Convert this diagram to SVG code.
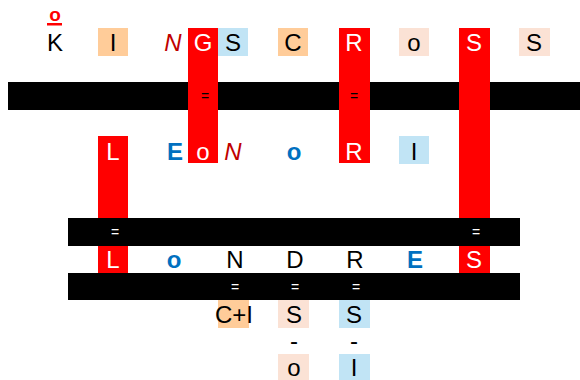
<svg xmlns="http://www.w3.org/2000/svg" width="580" height="380" viewBox="0 0 580 380">
<style>
text{font-family:"Liberation Sans",Arial,sans-serif;font-size:24px;text-anchor:middle}
.w{fill:#fff}
.k{fill:#000}
.b{fill:#0070C0;font-weight:bold}
.n{fill:#C00000;font-style:italic}
.eq{font-size:14px}
.red{fill:#FF0000}
.or{fill:#FFCC99}
.lb{fill:#C1E4F5}
.pe{fill:#FBE2D5}
.bar{fill:#000}
</style>
<g id="connectors">
<rect class="bar" x="8" y="82" width="572" height="28"/>
<rect class="bar" x="68" y="218" width="452" height="28"/>
<rect class="bar" x="68" y="273" width="452" height="27"/>
<rect class="red" x="188" y="28" width="30" height="135"/>
<rect class="red" x="339" y="28" width="31" height="135"/>
<rect class="red" x="459" y="28" width="31" height="190"/>
<rect class="red" x="98" y="136" width="30" height="82"/>
<text class="k eq" x="205" y="101">=</text>
<text class="k eq" x="354" y="101">=</text>
<text class="w eq" x="115" y="237">=</text>
<text class="w eq" x="476" y="237">=</text>
<text class="w eq" x="235" y="292">=</text>
<text class="w eq" x="295" y="292">=</text>
<text class="w eq" x="356" y="292">=</text>
<text class="k" x="294" y="349">-</text>
<text class="k" x="354" y="349">-</text>
</g>
<g id="o-top"><text x="55" y="21" style="fill:#FF0000;font-weight:bold;font-size:19px">o</text><rect class="red" x="47" y="23" width="15" height="2.5"/></g>
<g id="K1"><text class="k" x="55" y="51">K</text></g>
<g id="I1"><rect class="or" x="98" y="28" width="30" height="28"/><text class="k" x="113" y="51">I</text></g>
<g id="N1"><text class="n" x="173" y="51">N</text></g>
<g id="G1"><text class="w" x="203" y="51">G</text></g>
<g id="S1"><rect class="lb" x="218" y="28" width="30" height="28"/><text class="k" x="233" y="51">S</text></g>
<g id="C1"><rect class="or" x="278" y="28" width="30" height="28"/><text class="k" x="293" y="51">C</text></g>
<g id="R1"><text class="w" x="354" y="51">R</text></g>
<g id="o1"><rect class="pe" x="399" y="28" width="30" height="28"/><text class="k" x="414" y="51">o</text></g>
<g id="S2"><text class="w" x="474" y="51">S</text></g>
<g id="S3"><rect class="pe" x="519" y="28" width="31" height="28"/><text class="k" x="534" y="51">S</text></g>
<g id="L2"><text class="w" x="113" y="160">L</text></g>
<g id="E2"><text class="b" x="175" y="160">E</text></g>
<g id="o2"><text class="w" x="203" y="160">o</text></g>
<g id="N2"><text class="n" x="233" y="160">N</text></g>
<g id="o2b"><text class="b" x="294" y="160">o</text></g>
<g id="R2"><text class="w" x="354" y="160">R</text></g>
<g id="I2"><rect class="lb" x="399" y="136" width="30" height="28"/><text class="k" x="414" y="160">I</text></g>
<g id="L3"><rect class="red" x="98" y="246" width="30" height="27"/><text class="w" x="113" y="268">L</text></g>
<g id="o3"><text class="b" x="174" y="268">o</text></g>
<g id="N3"><text class="k" x="235" y="268">N</text></g>
<g id="D3"><text class="k" x="295" y="268">D</text></g>
<g id="R3"><text class="k" x="355" y="268">R</text></g>
<g id="E3"><text class="b" x="415" y="268">E</text></g>
<g id="S4"><rect class="red" x="459" y="246" width="31" height="27"/><text class="w" x="474" y="268">S</text></g>
<g id="CI4"><rect class="or" x="218" y="300" width="31" height="28"/><text class="k" x="234" y="323">C+I</text></g>
<g id="S5"><rect class="pe" x="278" y="300" width="31" height="28"/><text class="k" x="294" y="323">S</text></g>
<g id="S6"><rect class="lb" x="339" y="300" width="31" height="28"/><text class="k" x="354" y="323">S</text></g>
<g id="o5"><rect class="pe" x="278" y="354" width="31" height="26"/><text class="k" x="294" y="376">o</text></g>
<g id="I5"><rect class="lb" x="339" y="354" width="31" height="26"/><text class="k" x="354" y="376">I</text></g>
</svg>
